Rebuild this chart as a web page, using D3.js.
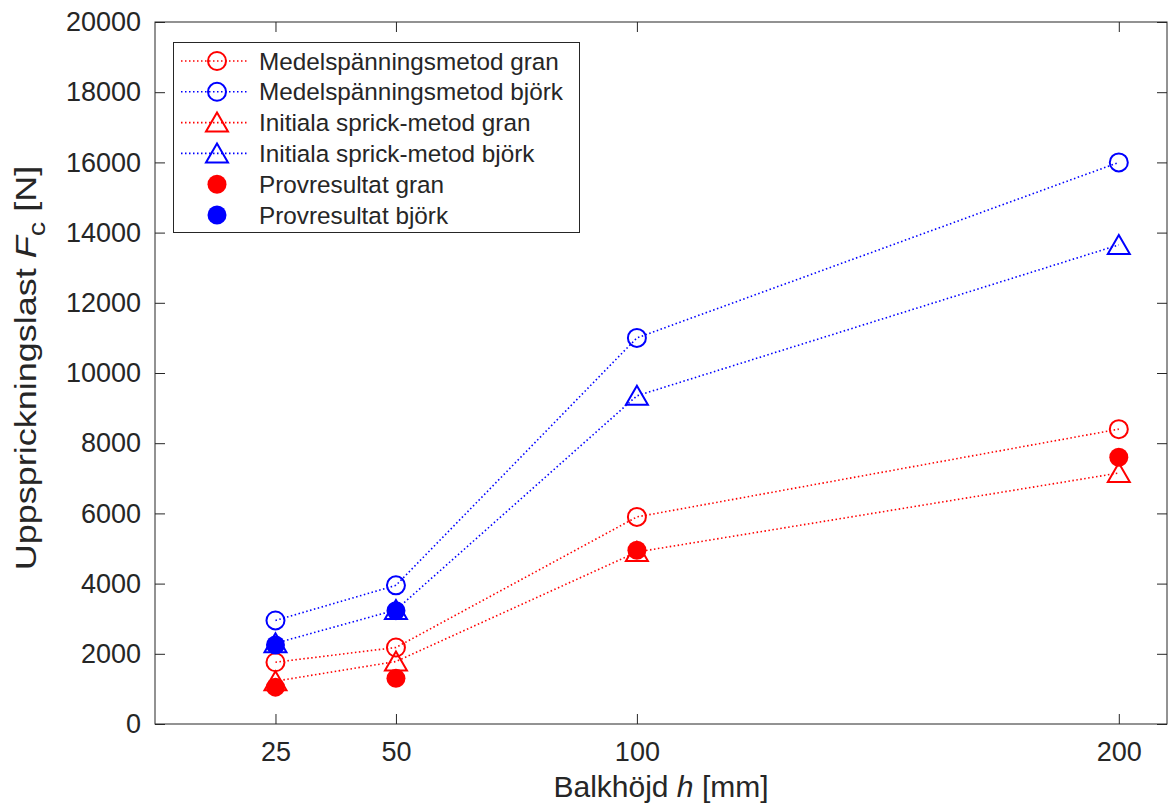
<!DOCTYPE html>
<head>
  <meta charset="utf-8">
  <script src="https://d3js.org/d3.v7.min.js"></script>
  <style>
  body { margin: 0; background: white; }
  #chart text { font-family: "Liberation Sans", Arial, sans-serif; fill: #262626; }
  </style>
</head>

<body>
  <svg id="chart"></svg>
  <script>

    // data
    var heights = [25, 50, 100, 200];
    var medelGran = [1760, 2180, 5900, 8400];
    var medelBjork = [2950, 3950, 11000, 16000];
    var initGran = [1220, 1780, 4900, 7150];
    var initBjork = [2300, 3250, 9350, 13650];
    var provGran = [1050, 1300, 4950, 7600];
    var provBjork = [2250, 3230];
    var xTicks = [25, 50, 100, 200];
    var yTicks = d3.range(0, 20001, 2000);

    var series = [
      { name: "Medelspänningsmetod gran", values: medelGran, color: "#ff0000", marker: "circle", line: true },
      { name: "Medelspänningsmetod björk", values: medelBjork, color: "#0000ff", marker: "circle", line: true },
      { name: "Initiala sprick-metod gran", values: initGran, color: "#ff0000", marker: "triangle", line: true },
      { name: "Initiala sprick-metod björk", values: initBjork, color: "#0000ff", marker: "triangle", line: true },
      { name: "Provresultat gran", values: provGran, color: "#ff0000", marker: "dot", line: false },
      { name: "Provresultat björk", values: provBjork, color: "#0000ff", marker: "dot", line: false }
    ];

    var width = 1168, height = 805;
    var plotLeft = 155, plotRight = 1167, plotTop = 22, plotBottom = 724;

    var svg = d3.select('#chart')
        .attr('width', width)
        .attr('height', height);

    var x = d3.scaleLinear().domain([0, 210]).range([plotLeft, plotRight]);
    var y = d3.scaleLinear().domain([0, 20000]).range([plotBottom, plotTop]);

    var axisColor = "#262626";
    var tickLen = 10;

    // box
    svg.append('rect')
        .attr('x', plotLeft).attr('y', plotTop)
        .attr('width', plotRight - plotLeft).attr('height', plotBottom - plotTop)
        .attr('fill', 'none').attr('stroke', axisColor).attr('stroke-width', 1);

    // ticks, inward on all sides
    var xAxisB = d3.axisBottom(x).tickValues(xTicks).tickSizeInner(-tickLen).tickSizeOuter(0).tickPadding(18);
    var gx = svg.append('g').attr('transform', 'translate(0,' + plotBottom + ')').call(xAxisB);
    var xAxisT = d3.axisTop(x).tickValues(xTicks).tickSizeInner(-tickLen).tickSizeOuter(0).tickFormat('');
    var gxt = svg.append('g').attr('transform', 'translate(0,' + plotTop + ')').call(xAxisT);
    var yAxisL = d3.axisLeft(y).tickValues(yTicks).tickSizeInner(-tickLen).tickSizeOuter(0).tickPadding(14).tickFormat(d3.format('d'));
    var gy = svg.append('g').attr('transform', 'translate(' + plotLeft + ',0)').call(yAxisL);
    var yAxisR = d3.axisRight(y).tickValues(yTicks).tickSizeInner(-tickLen).tickSizeOuter(0).tickFormat('');
    var gyr = svg.append('g').attr('transform', 'translate(' + plotRight + ',0)').call(yAxisR);

    [gx, gxt, gy, gyr].forEach(function(g) {
      g.select('.domain').remove();
      g.selectAll('.tick line').attr('stroke', axisColor);
      g.selectAll('.tick text').style('font-size', '27px').attr('fill', axisColor);
    });

    // axis labels
    var xl = svg.append('text')
        .attr('x', (plotLeft + plotRight) / 2).attr('y', 797)
        .attr('text-anchor', 'middle')
        .style('font-size', '30px');
    xl.append('tspan').text('Balkhöjd ');
    xl.append('tspan').style('font-style', 'italic').text('h');
    xl.append('tspan').text(' [mm]');

    // y label is drawn stretched along its length, as in the figure
    var yl = svg.append('text')
        .attr('transform', 'translate(36,368) rotate(-90) scale(1.2,1)')
        .attr('text-anchor', 'middle')
        .style('font-size', '30px');
    yl.append('tspan').text('Uppsprickningslast ');
    yl.append('tspan').style('font-style', 'italic').text('F');
    yl.append('tspan').attr('dy', 9).style('font-size', '24px').text('c');
    yl.append('tspan').attr('dy', -9).text(' [N]');

    function drawMarker(g, type, color, cx, cy) {
      if (type === 'circle') {
        g.append('circle').attr('cx', cx).attr('cy', cy).attr('r', 9)
          .attr('fill', 'none').attr('stroke', color).attr('stroke-width', 2);
      } else if (type === 'triangle') {
        var pts = [[cx, cy - 10], [cx + 11, cy + 9], [cx - 11, cy + 9]];
        g.append('polygon').attr('points', pts.map(function(p) { return p.join(','); }).join(' '))
          .attr('fill', 'none').attr('stroke', color).attr('stroke-width', 2);
      } else {
        g.append('circle').attr('cx', cx).attr('cy', cy).attr('r', 9.5)
          .attr('fill', color);
      }
    }

    var line = d3.line()
        .x(function(d, i) { return x(heights[i]); })
        .y(function(d) { return y(d); });

    var plot = svg.append('g');
    series.forEach(function(s) {
      var g = plot.append('g');
      if (s.line) {
        g.append('path').datum(s.values)
          .attr('d', line)
          .attr('fill', 'none').attr('stroke', s.color)
          .attr('stroke-width', 1.6).attr('stroke-dasharray', '1.5,2.5');
      }
      s.values.forEach(function(v, i) {
        drawMarker(g, s.marker, s.color, x(heights[i]), y(v));
      });
    });

    // legend
    var lg = svg.append('g');
    lg.append('rect').attr('x', 173.5).attr('y', 42.5).attr('width', 406).attr('height', 190)
        .attr('fill', 'white').attr('stroke', axisColor).attr('stroke-width', 1);
    series.forEach(function(s, i) {
      var ly = 61 + i * 30.8;
      if (s.line) {
        lg.append('line').attr('x1', 181).attr('x2', 249).attr('y1', ly).attr('y2', ly)
          .attr('stroke', s.color).attr('stroke-width', 1.6).attr('stroke-dasharray', '1.5,2.5');
      }
      drawMarker(lg, s.marker, s.color, 217, ly);
      lg.append('text').attr('x', 259).attr('y', ly).attr('dy', '0.35em')
        .style('font-size', '24.3px').text(s.name);
    });

  </script>
</body>
